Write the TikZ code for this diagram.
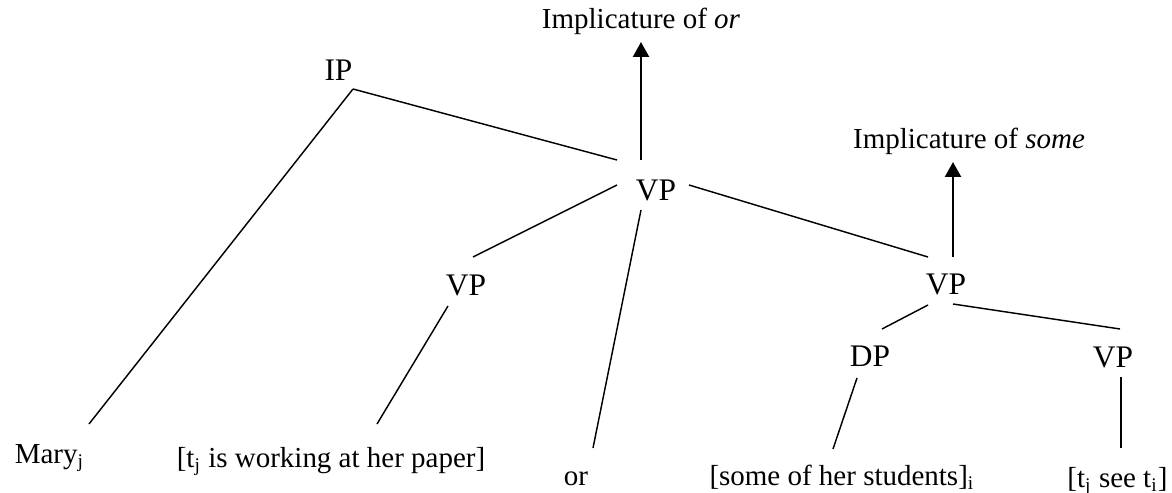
\documentclass[tikz,border=0pt]{standalone}
\usepackage{fontspec}
\setmainfont{Liberation Serif}
\usetikzlibrary{arrows.meta}

\tikzset{
  cat/.style={font=\fontsize{13}{15}\selectfont},
  leaf/.style={font=\fontsize{12}{14}\selectfont},
  impl/.style={line width=1pt,-{Triangle[length=6.2pt,width=6.6pt]}},
}

\begin{document}
\begin{tikzpicture}[x=0.414pt,y=-0.414pt,every node/.style={anchor=base,inner sep=0pt}]
  \useasboundingbox (0,0) rectangle (1172,493);
  \draw
    (641,28) node[leaf] (imor){Implicature of \textit{or}}
    (969,148) node[leaf] (imsome){Implicature of \textit{some}}
    (338.5,80) node[cat] (ip){IP}
    (656,200) node[cat] (vp1){VP}
    (466,295) node[cat] (vp2){VP}
    (946,294) node[cat] (vp3){VP}
    (870,366) node[cat] (dp){DP}
    (1113,367) node[cat] (vp4){VP}
    (49.5,463) node[leaf] (mary){Mary\textsubscript{j}}
    (331,467) node[leaf] (work){[t\textsubscript{j} is working at her paper]}
    (576,485) node[leaf] (or){or}
    (842,485) node[leaf] (stud){[some of her students]\textsubscript{i}}
    (1117.5,487) node[leaf] (see){[t\textsubscript{j} see t\textsubscript{i}]};
  \begin{scope}[line width=0.6pt]
    \draw ([shift={(14.5,9)}]ip.base) -- ([shift={(39.5,-39)}]mary.base);
    \draw ([shift={(14.5,9)}]ip.base) -- ([shift={(-39,-40)}]vp1.base);
    \draw ([shift={(-39,-15)}]vp1.base) -- ([shift={(7,-38)}]vp2.base);
    \draw ([shift={(-15,10)}]vp1.base) -- ([shift={(17,-37)}]or.base);
    \draw ([shift={(33,-15)}]vp1.base) -- ([shift={(-18,-37)}]vp3.base);
    \draw ([shift={(-18,11)}]vp2.base) -- ([shift={(46,-43)}]work.base);
    \draw ([shift={(-18,11)}]vp3.base) -- ([shift={(12,-37)}]dp.base);
    \draw ([shift={(7,10)}]vp3.base) -- ([shift={(7,-38)}]vp4.base);
    \draw ([shift={(-13,12)}]dp.base) -- ([shift={(-9,-36)}]stud.base);
    \draw ([shift={(8,10)}]vp4.base) -- ([shift={(3.5,-39)}]see.base);
  \end{scope}
  % implicature arrows
  \draw[impl] ([shift={(-15,-40)}]vp1.base) -- ([shift={(0,14)}]imor.base);
  \draw[impl] ([shift={(7,-37)}]vp3.base) -- ([shift={(-16,14)}]imsome.base);
\end{tikzpicture}
\end{document}
